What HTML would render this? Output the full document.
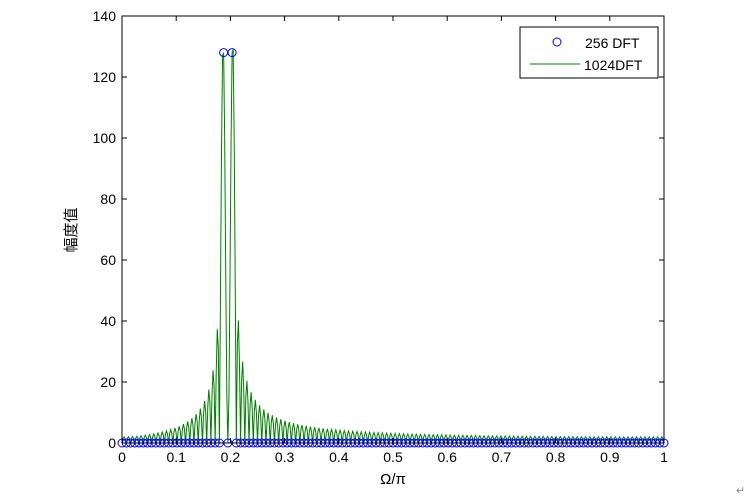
<!DOCTYPE html>
<html><head><meta charset="utf-8"><style>
body{margin:0;background:#fff;}
svg{display:block;font-family:"Liberation Sans","Noto Sans CJK SC",sans-serif;}
</style></head><body>
<svg id="s" width="755" height="498" xmlns="http://www.w3.org/2000/svg">
<rect width="755" height="498" fill="#fff"/>
<g id="data"></g>
<rect x="122" y="16" width="542" height="427" fill="none" stroke="#000" stroke-width="1"/>
<g id="ticks" stroke="#000" stroke-width="1"></g>
<g id="labels" font-size="14" fill="#000"></g>
<text x="393" y="484" font-size="15" text-anchor="middle">Ω/π</text>
<text transform="translate(76,230) rotate(-90)" font-size="15" text-anchor="middle">幅度值</text>
<rect x="520" y="27" width="138" height="51" fill="#fff" stroke="#000"/>
<circle cx="557" cy="42" r="4" fill="none" stroke="#00f"/>
<text x="585" y="48" font-size="14">256 DFT</text>
<line x1="530" y1="64" x2="580" y2="64" stroke="#007f00"/>
<text x="584" y="70" font-size="14">1024DFT</text>
<text x="736" y="494" font-size="11" fill="#888">↵</text>
</svg>
<script>
const X0=122,W=542,Y0=443,H=427;
const px=v=>X0+v*W, py=v=>Y0-v/140*H;
const x=[];for(let n=0;n<256;n++)x.push(Math.cos(2*Math.PI*24*n/256)+Math.cos(2*Math.PI*26*n/256));
function mag(k,N){let re=0,im=0;for(let n=0;n<256;n++){const a=-2*Math.PI*k*n/N;re+=x[n]*Math.cos(a);im+=x[n]*Math.sin(a);}return Math.hypot(re,im);}
let pts=[];for(let k=0;k<=512;k++){pts.push(px(k/512).toFixed(2)+","+py(mag(k,1024)).toFixed(2));}
let h='<polyline points="'+pts.join(" ")+'" fill="none" stroke="#007f00" stroke-width="1"/>';
for(let k=0;k<=128;k++){h+='<circle cx="'+px(k/128).toFixed(2)+'" cy="'+py(mag(k,256)).toFixed(2)+'" r="4" fill="none" stroke="#00f" stroke-width="1"/>';}
document.getElementById('data').innerHTML=h;
let t='',l='';
for(let i=0;i<=10;i++){const X=px(i/10);t+=`<line x1="${X}" y1="443" x2="${X}" y2="438"/><line x1="${X}" y1="16" x2="${X}" y2="21"/>`;l+=`<text x="${X}" y="462" text-anchor="middle">${i==0?'0':i==10?'1':(i/10).toString()}</text>`;}
for(let v=0;v<=140;v+=20){const Y=py(v);t+=`<line x1="122" y1="${Y}" x2="127" y2="${Y}"/><line x1="664" y1="${Y}" x2="659" y2="${Y}"/>`;l+=`<text x="116" y="${Y+5}" text-anchor="end">${v}</text>`;}
document.getElementById('ticks').innerHTML=t;document.getElementById('labels').innerHTML=l;
</script>
</body></html>
